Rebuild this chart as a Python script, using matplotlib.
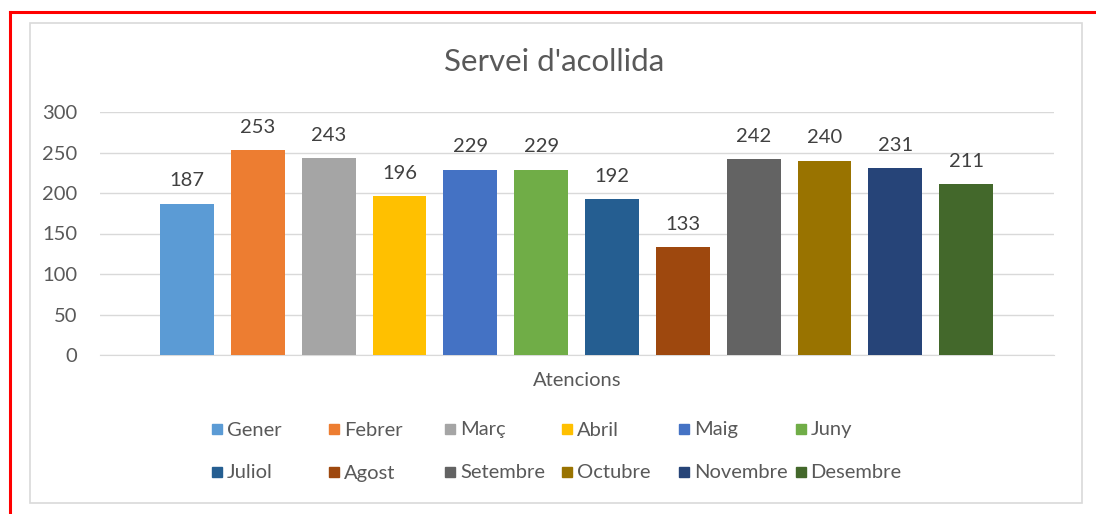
import matplotlib.pyplot as plt
from matplotlib.patches import Rectangle
from matplotlib.lines import Line2D

plt.rcParams['font.family'] = ['Lato', 'DejaVu Sans']

# data
months = ['Gener', 'Febrer', 'Març', 'Abril', 'Maig', 'Juny',
          'Juliol', 'Agost', 'Setembre', 'Octubre', 'Novembre', 'Desembre']
attentions = [187, 253, 243, 196, 229, 229, 192, 133, 242, 240, 231, 211]
colors = ['#5B9BD5', '#ED7D31', '#A5A5A5', '#FFC000', '#4472C4', '#70AD47',
          '#255E91', '#9E480E', '#636363', '#997300', '#264478', '#43682B']
yticks = [0, 50, 100, 150, 200, 250, 300]

W, H = 1096, 514
fig = plt.figure(figsize=(W / 100, H / 100), dpi=100)

# axes placed in pixel terms
ax = fig.add_axes([100 / W, 1 - 355 / H, (1054 - 100) / W, (355 - 112) / H])
x = list(range(len(months)))
bars = ax.bar(x, attentions, width=0.76, color=colors, zorder=3)
for xi, v in zip(x, attentions):
    ax.text(xi, v + 28, str(v), ha='center', va='center', fontsize=14.5, color='#404040')

ax.set_ylim(0, 300)
ax.set_xlim(-1.227, 12.24)
ax.set_yticks(yticks)
ax.set_xticks([])
ax.grid(axis='y', color='#D9D9D9', linewidth=1, zorder=0)
for s in ['top', 'right', 'left']:
    ax.spines[s].set_visible(False)
ax.spines['bottom'].set_color('#D9D9D9')
ax.tick_params(axis='y', length=0, labelsize=14.5, labelcolor='#595959', pad=16.5)

fig.text(554 / W, 1 - 62 / H, "Servei d'acollida", ha='center', va='center',
         fontsize=22.5, color='#595959')
fig.text(577 / W, 1 - 381 / H, 'Atencions', ha='center', va='center',
         fontsize=14.5, color='#595959')

# legend, two rows of six
for i, (m, c) in enumerate(zip(months, colors)):
    row, col = divmod(i, 6)
    px = 212 + col * 116.7
    py = 429 + row * 43
    fig.patches.append(Rectangle((px / W, 1 - (py + 5) / H), 10 / W, 10 / H,
                                 transform=fig.transFigure, color=c))
    fig.text((px + 15) / W, 1 - (py + 6.5) / H, m, ha='left', va='baseline',
             fontsize=14.5, color='#595959')

# chart area border and red frame
fig.patches.append(Rectangle((30 / W, 1 - 503 / H), (1082 - 30) / W, (503 - 23) / H,
                             transform=fig.transFigure, fill=False,
                             edgecolor='#D9D9D9', linewidth=1.2))
fig.lines.append(Line2D([9.5 / W, 1], [1 - 11.5 / H, 1 - 11.5 / H],
                        transform=fig.transFigure, color='red', linewidth=2.2))
fig.lines.append(Line2D([9.5 / W, 9.5 / W], [0, 1 - 11.5 / H],
                        transform=fig.transFigure, color='red', linewidth=2.2))

fig.savefig('out.png', dpi=100)
